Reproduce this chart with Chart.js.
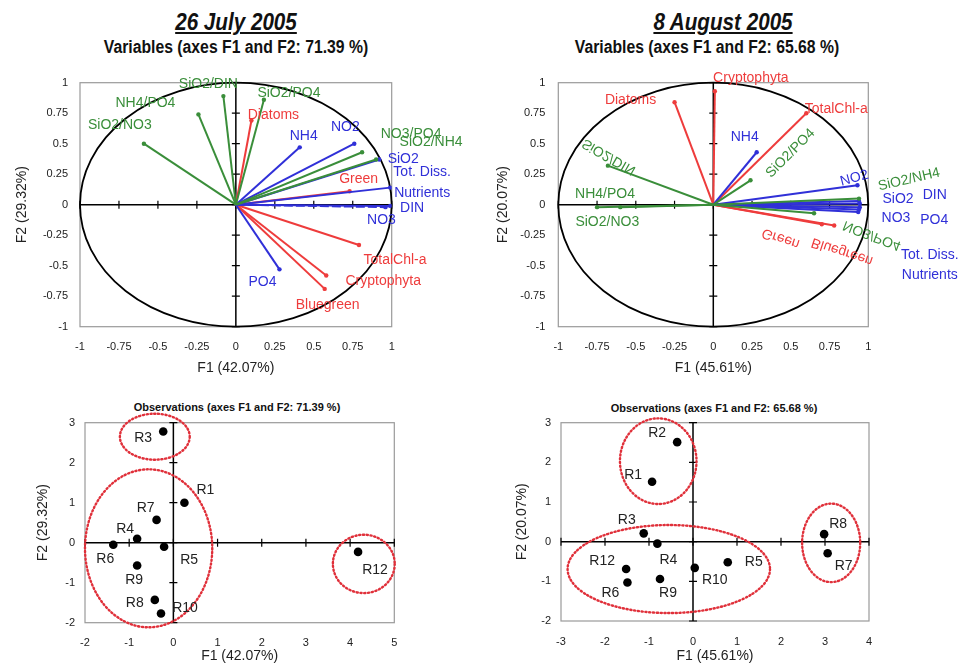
<!DOCTYPE html>
<html><head><meta charset="utf-8">
<script src="https://cdn.jsdelivr.net/npm/chart.js@4.4.0/dist/chart.umd.min.js"></script>
<style>
html,body{margin:0;padding:0;background:#fff;width:966px;height:665px;overflow:hidden;position:relative}
canvas{position:absolute}
.t{position:absolute;white-space:nowrap;color:#111}
.date{font-family:'Liberation Sans',Arial,sans-serif;font-weight:bold;font-style:italic;text-decoration:underline;font-size:24px;transform:translate(-50%,-50%) scaleX(0.86)}
.var{font-family:'Liberation Sans',Arial,sans-serif;font-weight:bold;font-size:17.5px;transform:translate(-50%,-50%) scaleX(0.9)}
.obs{font-family:'Liberation Sans',Arial,sans-serif;font-weight:bold;font-size:11px;transform:translate(-50%,-50%)}
</style></head><body>
<div class="t date" style="left:236px;top:22px">26 July 2005</div>
<div class="t var" style="left:236px;top:47px">Variables (axes F1 and F2: 71.39 %)</div>
<div class="t date" style="left:723px;top:22px">8 August 2005</div>
<div class="t var" style="left:707px;top:47px">Variables (axes F1 and F2: 65.68 %)</div>
<div class="t obs" style="left:237px;top:407px">Observations (axes F1 and F2: 71.39 %)</div>
<div class="t obs" style="left:714px;top:408px">Observations (axes F1 and F2: 65.68 %)</div>
<canvas id="tl"></canvas><canvas id="tr"></canvas><canvas id="bl"></canvas><canvas id="br"></canvas>
<script>
// ---------- DATA ----------
// 26 July 2005 – variables (correlation circle)
const tlVars  = ['SiO2/NO3','NH4/PO4','SiO2/DIN','SiO2/PO4','NO3/PO4','SiO2/NH4','NH4','NO2','SiO2','Tot. Diss.\nNutrients','DIN','NO3','PO4','Diatoms','Green','TotalChl-a','Cryptophyta','Bluegreen'];
const tlF1    = [-0.59,-0.24,-0.08,0.18,0.81,0.90,0.41,0.76,0.92,0.99,0.99,0.96,0.28,0.10,0.73,0.79,0.58,0.57];
const tlF2    = [0.50,0.74,0.89,0.86,0.43,0.37,0.47,0.50,0.37,0.14,-0.01,-0.02,-0.53,0.69,0.11,-0.33,-0.58,-0.69];
const tlGroup = ['ratio','ratio','ratio','ratio','ratio','ratio','nutr','nutr','nutr','nutr','nutr','nutr','nutr','phyto','phyto','phyto','phyto','phyto'];
// 8 August 2005 – variables
const trVars  = ['SiO2/DIN','NH4/PO4','SiO2/NO3','SiO2/PO4','SiO2/NH4','NO3/PO4','NH4','NO2','SiO2','DIN','NO3','PO4','Tot. Diss.\nNutrients','Cryptophyta','Diatoms','TotalChl-a','Green','Bluegreen'];
const trF1    = [-0.68,-0.75,-0.60,0.24,0.94,0.65,0.28,0.93,0.94,0.945,0.94,0.935,0.945,0.01,-0.25,0.60,0.70,0.78];
const trF2    = [0.32,-0.02,-0.02,0.20,0.05,-0.07,0.43,0.16,0.03,0.01,-0.04,-0.06,-0.02,0.93,0.84,0.75,-0.16,-0.17];
const trGroup = ['ratio','ratio','ratio','ratio','ratio','ratio','nutr','nutr','nutr','nutr','nutr','nutr','nutr','phyto','phyto','phyto','phyto','phyto'];
// 26 July 2005 – observations
const blObs = ['R3','R1','R7','R4','R6','R5','R9','R8','R10','R12'];
const blF1  = [-0.23,0.25,-0.38,-0.82,-1.36,-0.21,-0.82,-0.42,-0.28,4.18];
const blF2  = [2.78,1.00,0.57,0.10,-0.05,-0.10,-0.57,-1.43,-1.77,-0.23];
const blClusterCx = [-0.42,-0.56,4.31], blClusterCy = [2.65,-0.14,-0.53];
const blClusterRx = [0.79,1.44,0.70],  blClusterRy = [0.575,1.975,0.73];
// 8 August 2005 – observations
const brObs = ['R2','R1','R3','R4','R12','R6','R9','R10','R5','R8','R7'];
const brF1  = [-0.36,-0.93,-1.12,-0.81,-1.52,-1.49,-0.75,0.04,0.79,2.98,3.06];
const brF2  = [2.51,1.51,0.21,-0.05,-0.69,-1.03,-0.94,-0.66,-0.52,0.19,-0.29];
const brClusterCx = [-0.79,-0.55,3.14], brClusterCy = [2.03,-0.69,-0.03];
const brClusterRx = [0.87,2.30,0.66],  brClusterRy = [1.08,1.11,0.99];
// tick labels
const corrTicks = ['-1','-0.75','-0.5','-0.25','0','0.25','0.5','0.75','1'];
const blXTicks = ['-2','-1','0','1','2','3','4','5'];
const brXTicks = ['-3','-2','-1','0','1','2','3','4'];
const obsYTicks = ['-2','-1','0','1','2','3'];

// ---------- STYLE (label placement, px offsets from mark) ----------
const groupColor = {ratio:'#3a8e3a', nutr:'#3030d8', phyto:'#ee3c3c'};
const tlLabelStyle = [[-24,-19],[-53,-11],[-15,-12],[25,-7],[49,-18],[55,-17],[4,-11],[-9,-17],[24,0],[32,-5],[22,2],[-4,13],[-17,13],[22,-5],[9,-12],[36,15],[57,6],[3,16]];
const trLabelStyle = [[1,-9,30,1],[8,-13],[-13,15],[40,-27,-45],[50,-19,-13],[58,22,21,1],[-12,-15],[-3,-7,-15],[39,-2],[75,-8],[37,9],[76,8],[70,58],[36,-13],[-44,-2],[30,-4],[-41,14,18,1],[8,26,18,1]];
const blLabelStyle = [[-20,7],[21,-13],[-11,-12],[-12,-10],[-8,14],[25,13],[-3,15],[-20,3],[24,-5],[17,18]];
const brLabelStyle = [[-20,-9],[-19,-7],[-17,-13],[11,16],[-24,-8],[-17,11],[8,14],[20,12],[26,0],[14,-10],[16,13]];

const FONT = "'Liberation Sans', Arial, sans-serif";

function tickCb(list){ return v => { const s = list.find(t => Math.abs(parseFloat(t)-v) < 1e-6); return s === undefined ? '' : s; }; }

function decoPlugin(cfg){
  return {
    id:'deco',
    beforeDatasetsDraw(chart){
      const {ctx, chartArea:a, scales:{x,y}} = chart;
      ctx.save();
      ctx.strokeStyle='#9a9a9a'; ctx.lineWidth=1.2;
      ctx.strokeRect(a.left, a.top, a.width, a.height);
      const x0 = x.getPixelForValue(0), y0 = y.getPixelForValue(0);
      if (cfg.circle){
        ctx.beginPath();
        ctx.ellipse(x0, y0, x.getPixelForValue(1)-x0, y0-y.getPixelForValue(1), 0, 0, 2*Math.PI);
        ctx.strokeStyle='#000'; ctx.lineWidth=1.8; ctx.stroke();
      }
      ctx.strokeStyle='#000'; ctx.lineWidth=1.5;
      ctx.beginPath();
      ctx.moveTo(a.left,y0); ctx.lineTo(a.right,y0);
      ctx.moveTo(x0,a.top); ctx.lineTo(x0,a.bottom);
      ctx.stroke();
      ctx.lineWidth=1.2; ctx.beginPath();
      x.ticks.forEach(t=>{const p=x.getPixelForValue(t.value); ctx.moveTo(p,y0-4); ctx.lineTo(p,y0+4);});
      y.ticks.forEach(t=>{const p=y.getPixelForValue(t.value); ctx.moveTo(x0-4,p); ctx.lineTo(x0+4,p);});
      ctx.stroke();
      ctx.restore();
    },
    afterDatasetsDraw(chart){
      const {ctx, scales:{x,y}} = chart;
      ctx.save();
      if (cfg.clusters){
        const c = cfg.clusters;
        ctx.strokeStyle='#e0303a'; ctx.lineWidth=2.4; ctx.setLineDash([1.2,2.6]); ctx.lineCap='round';
        c.cx.forEach((cx,i)=>{
          const px=x.getPixelForValue(cx), py=y.getPixelForValue(c.cy[i]);
          const rx=x.getPixelForValue(cx+c.rx[i])-px, ry=py-y.getPixelForValue(c.cy[i]+c.ry[i]);
          ctx.beginPath(); ctx.ellipse(px,py,rx,ry,0,0,2*Math.PI); ctx.stroke();
        });
        ctx.setLineDash([]);
      }
      const L = cfg.labels;
      ctx.font = L.font; ctx.textAlign='center'; ctx.textBaseline='middle';
      L.names.forEach((name,i)=>{
        const st = L.style[i];
        const px = x.getPixelForValue(L.xs[i]) + st[0], py = y.getPixelForValue(L.ys[i]) + st[1];
        ctx.save();
        ctx.translate(px,py);
        if (st[2]) ctx.rotate(st[2]*Math.PI/180);
        if (st[3]) ctx.scale(1,-1);
        ctx.fillStyle = L.colors[i];
        const lines = name.split('\n');
        lines.forEach((ln,k)=> ctx.fillText(ln, 0, (k-(lines.length-1)/2)*L.lineH));
        ctx.restore();
      });
      ctx.restore();
    }
  };
}

function makePanel(id, rect, area, opt){
  const cv = document.getElementById(id);
  cv.width = rect.w; cv.height = rect.h;
  cv.style.left = rect.x+'px'; cv.style.top = rect.y+'px';
  const tickFont = {family:FONT, size:11};
  const titleFont = {family:FONT, size:14};
  new Chart(cv, {
    type:'scatter',
    data:{datasets:opt.datasets},
    options:{
      responsive:false, animation:false, events:[],
      layout:{padding:{left:0, top:area.t-rect.y, right:rect.x+rect.w-area.r, bottom:0}},
      plugins:{legend:{display:false}, tooltip:{enabled:false}},
      scales:{
        x:{type:'linear', min:opt.xmin, max:opt.xmax,
          grid:{display:false, drawTicks:false}, border:{display:false},
          ticks:{stepSize:opt.xstep, padding:opt.xpad, font:tickFont, color:'#222', autoSkip:false, maxRotation:0, callback:tickCb(opt.xticks)},
          title:{display:true, text:opt.xtitle, font:titleFont, color:'#222', padding:{top:0,bottom:opt.xtp}},
          afterFit:s=>{ s.height = rect.y+rect.h-area.b; }},
        y:{type:'linear', min:opt.ymin, max:opt.ymax,
          grid:{display:false, drawTicks:false}, border:{display:false},
          ticks:{stepSize:opt.ystep, padding:opt.ypad, font:tickFont, color:'#222', autoSkip:false, callback:tickCb(opt.yticks)},
          title:{display:true, text:opt.ytitle, font:titleFont, color:'#222', padding:{top:opt.ytp,bottom:0}},
          afterFit:s=>{ s.width = area.l-rect.x; }}
      }
    },
    plugins:[decoPlugin(opt.deco)]
  });
}

function vectorSets(f1,f2,groups,names){
  return f1.map((v,i)=>({
    showLine:true, data:[{x:0,y:0},{x:v,y:f2[i]}],
    borderColor:groupColor[groups[i]], backgroundColor:groupColor[groups[i]],
    borderWidth:2, pointRadius:[0,2.2], pointBorderWidth:0,
    borderDash: names[i]==='NO3' && f1===tlF1 ? [9,3] : []
  }));
}
function pointSet(f1,f2){
  return [{data:f1.map((v,i)=>({x:v,y:f2[i]})), backgroundColor:'#000', borderColor:'#000', pointRadius:4.3, pointBorderWidth:0}];
}

makePanel('tl', {x:0,y:55,w:483,h:325}, {l:80,t:82.7,r:391.7,b:326.7}, {
  datasets:vectorSets(tlF1,tlF2,tlGroup,tlVars),
  xmin:-1,xmax:1,xstep:0.25,ymin:-1,ymax:1,ystep:0.25,xticks:corrTicks,yticks:corrTicks,
  xpad:14,ypad:12,xtitle:'F1 (42.07%)',ytitle:'F2 (29.32%)',xtp:3.6,ytp:13.6,
  deco:{circle:true, labels:{names:tlVars,xs:tlF1,ys:tlF2,style:tlLabelStyle,colors:tlGroup.map(g=>groupColor[g]),font:"14px "+FONT,lineH:21}}
});
makePanel('tr', {x:483,y:55,w:483,h:325}, {l:558.3,t:82.7,r:868.3,b:326.7}, {
  datasets:vectorSets(trF1,trF2,trGroup,trVars),
  xmin:-1,xmax:1,xstep:0.25,ymin:-1,ymax:1,ystep:0.25,xticks:corrTicks,yticks:corrTicks,
  xpad:14,ypad:13,xtitle:'F1 (45.61%)',ytitle:'F2 (20.07%)',xtp:3.6,ytp:11.6,
  deco:{circle:true, labels:{names:trVars,xs:trF1,ys:trF2,style:trLabelStyle,colors:trGroup.map(g=>groupColor[g]),font:"14px "+FONT,lineH:20}}
});
makePanel('bl', {x:0,y:385,w:483,h:280}, {l:85,t:422.7,r:394.3,b:622.7}, {
  datasets:pointSet(blF1,blF2),
  xmin:-2,xmax:5,xstep:1,ymin:-2,ymax:3,ystep:1,xticks:blXTicks,yticks:obsYTicks,
  xpad:14,ypad:10,xtitle:'F1 (42.07%)',ytitle:'F2 (29.32%)',xtp:0,ytp:34.6,
  deco:{circle:false, clusters:{cx:blClusterCx,cy:blClusterCy,rx:blClusterRx,ry:blClusterRy},
    labels:{names:blObs,xs:blF1,ys:blF2,style:blLabelStyle,colors:blObs.map(()=>'#222'),font:"14px "+FONT,lineH:16}}
});
makePanel('br', {x:483,y:385,w:483,h:280}, {l:561,t:422.7,r:869,b:621}, {
  datasets:pointSet(brF1,brF2),
  xmin:-3,xmax:4,xstep:1,ymin:-2,ymax:3,ystep:1,xticks:brXTicks,yticks:obsYTicks,
  xpad:14,ypad:10,xtitle:'F1 (45.61%)',ytitle:'F2 (20.07%)',xtp:0,ytp:30.6,
  deco:{circle:false, clusters:{cx:brClusterCx,cy:brClusterCy,rx:brClusterRx,ry:brClusterRy},
    labels:{names:brObs,xs:brF1,ys:brF2,style:brLabelStyle,colors:brObs.map(()=>'#222'),font:"14px "+FONT,lineH:16}}
});
</script>
</body></html>
